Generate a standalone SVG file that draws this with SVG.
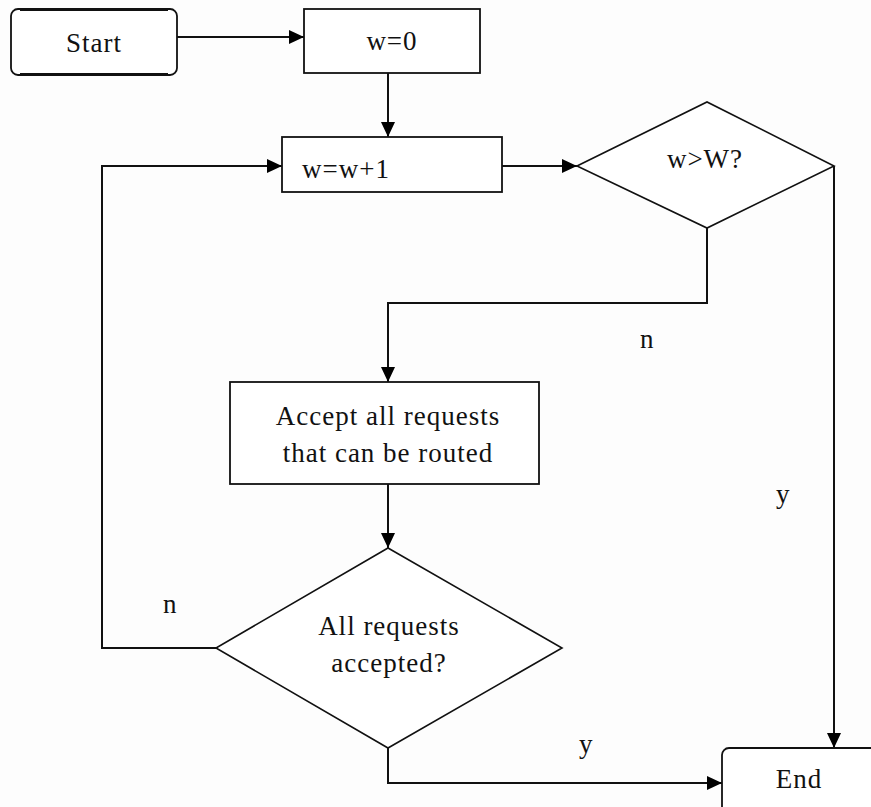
<svg xmlns="http://www.w3.org/2000/svg" width="871" height="807" viewBox="0 0 871 807">
  <defs>
    <marker id="arrow" markerUnits="userSpaceOnUse" markerWidth="16" markerHeight="14" refX="15" refY="7" orient="auto">
      <path d="M0,0 L15,7 L0,14 Z" fill="#000"/>
    </marker>
    <style>
      .box { fill: #fff; stroke: #111; stroke-width: 1.8; }
      .dia { fill: #fff; stroke: #111; stroke-width: 1.6; }
      .wire { fill: none; stroke: #111; stroke-width: 2; }
      .arr { marker-end: url(#arrow); }
      .lbl { font-family: "Liberation Serif", "Times New Roman", serif; font-size: 27px; letter-spacing: 1px; fill: #111; }
      .mid { text-anchor: middle; }
    </style>
  </defs>

  <rect width="871" height="807" fill="#fdfdfd"/>

  <!-- connectors -->
  <g id="connectors">
    <line class="wire arr" x1="177" y1="37" x2="304" y2="37"/>
    <line class="wire arr" x1="388" y1="73" x2="388" y2="137"/>
    <line class="wire arr" x1="502" y1="166" x2="577" y2="166"/>
    <polyline class="wire arr" points="707,228 707,303 388,303 388,382"/>
    <polyline class="wire arr" points="834,166 834,748"/>
    <line class="wire arr" x1="388" y1="484" x2="388" y2="548"/>
    <polyline class="wire arr" points="216,648 102,648 102,166 282,166"/>
    <polyline class="wire arr" points="388,748 388,783 722,783"/>
    <text class="lbl" x="640" y="348">n</text>
    <text class="lbl" x="776" y="503">y</text>
    <text class="lbl" x="163" y="613">n</text>
    <text class="lbl" x="579" y="753">y</text>
  </g>

  <!-- nodes -->
  <g id="start">
    <rect class="box" x="11" y="9" width="166" height="66" rx="7"/>
    <line x1="20" y1="9.5" x2="168" y2="9.5" stroke="#111" stroke-width="3"/>
    <line x1="20" y1="74.5" x2="168" y2="74.5" stroke="#111" stroke-width="3"/>
    <text class="lbl mid" x="94" y="52">Start</text>
  </g>

  <g id="init">
    <rect class="box" x="304" y="9" width="176" height="64"/>
    <text class="lbl mid" x="392" y="50">w=0</text>
  </g>

  <g id="increment">
    <rect class="box" x="282" y="137" width="220" height="55"/>
    <text class="lbl" x="302" y="178">w=w+1</text>
  </g>

  <g id="limit-check">
    <polygon class="dia" points="577,166 707,102 834,166 707,228"/>
    <text class="lbl mid" x="705" y="168">w&gt;W?</text>
  </g>

  <g id="accept">
    <rect class="box" x="230" y="382" width="309" height="102"/>
    <text class="lbl mid" x="388" y="425">Accept all requests</text>
    <text class="lbl mid" x="388" y="462">that can be routed</text>
  </g>

  <g id="all-accepted">
    <polygon class="dia" points="388,548 562,648 388,748 216,648"/>
    <text class="lbl mid" x="389" y="635">All requests</text>
    <text class="lbl mid" x="389" y="672">accepted?</text>
  </g>

  <g id="end">
    <rect class="box" x="722" y="748" width="200" height="100" rx="7"/>
    <text class="lbl mid" x="799" y="788">End</text>
  </g>
</svg>
